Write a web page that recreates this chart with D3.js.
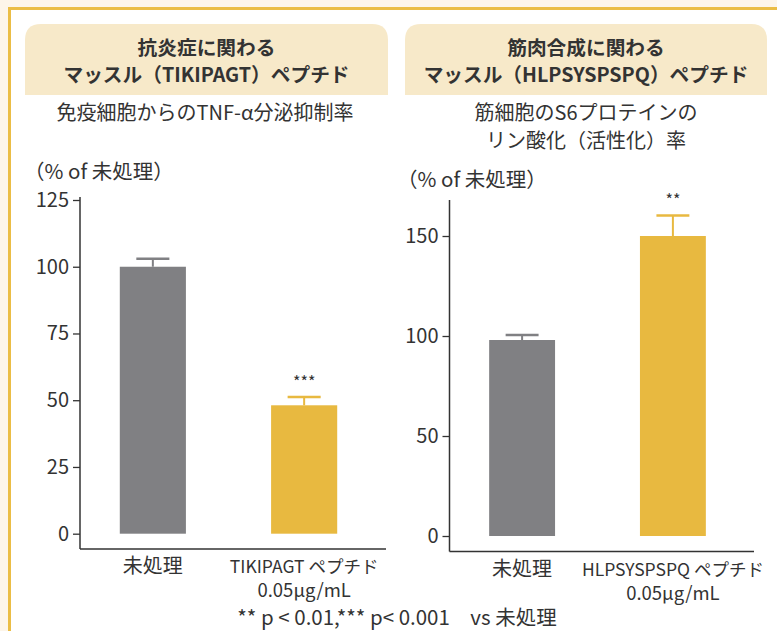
<!DOCTYPE html>
<html><head><meta charset="utf-8">
<script src="https://cdn.jsdelivr.net/npm/d3@7"></script>
<style>
html,body{margin:0;padding:0;background:#fdf5e9;}
svg{display:block;font-family:"Noto Sans CJK JP","Noto Sans",sans-serif;}
</style></head>
<body>
<svg id="c" width="777" height="631"></svg>
<script>
// ---- data ----
const leftTitle = ["抗炎症に関わる", "マッスル（TIKIPAGT）ペプチド"];
const leftSubtitle = ["免疫細胞からのTNF-α分泌抑制率"];
const leftCategories = ["未処理", "TIKIPAGT ペプチド"];
const leftCatSub = ["", "0.05μg/mL"];
const leftValues = [100, 48.1];
const leftErrors = [3, 3.1];
const leftSig = ["", "***"];
const leftTicks = [0, 25, 50, 75, 100, 125];

const rightTitle = ["筋肉合成に関わる", "マッスル（HLPSYSPSPQ）ペプチド"];
const rightSubtitle = ["筋細胞のS6プロテインの", "リン酸化（活性化）率"];
const rightCategories = ["未処理", "HLPSYSPSPQ ペプチド"];
const rightCatSub = ["", "0.05μg/mL"];
const rightValues = [98, 150];
const rightErrors = [2.5, 10.3];
const rightSig = ["", "**"];
const rightTicks = [0, 50, 100, 150];

const yLabel = "（% of 未処理）";
const footnote = "** p < 0.01,*** p< 0.001　vs 未処理";
const barColors = ["#808083", "#e8b940"];

const FS = 20;
const svg = d3.select("#c");
svg.append("rect").attr("x",0).attr("y",0).attr("width",777).attr("height",631).attr("fill","#fdf5e9");
svg.append("rect").attr("x",9.5).attr("y",8.5).attr("width",800).attr("height",700)
  .attr("fill","#ffffff").attr("stroke","#ebbd45").attr("stroke-width",3);

function headerBox(x, w, lines){
  const y=24, h=71, r=16;
  const p = `M${x},${y+h} L${x},${y+r} Q${x},${y} ${x+r},${y} L${x+w-r},${y} Q${x+w},${y} ${x+w},${y+r} L${x+w},${y+h} Z`;
  svg.append("path").attr("d",p).attr("fill","#f7e9c9");
  lines.forEach((t,i)=>{
    svg.append("text").attr("x",x+w/2).attr("y",55+i*27).attr("text-anchor","middle")
      .attr("font-size",19.7).attr("font-weight","bold").attr("fill","#333").text(t);
  });
}
headerBox(25, 363, leftTitle);
headerBox(405, 362, rightTitle);

function subtitle(cx, lines){
  lines.forEach((t,i)=>{
    svg.append("text").attr("x",cx).attr("y",120+i*28).attr("text-anchor","middle")
      .attr("font-size",FS).attr("fill","#333").text(t);
  });
}
subtitle(205, leftSubtitle);
subtitle(586, rightSubtitle);

function chart(o){
  const g = svg.append("g");
  const y = d3.scaleLinear().domain([0, o.max]).range([o.y0, o.y1]);
  const x = d3.scaleBand().domain(o.cats).range([o.xl, o.xr]).paddingInner(0.563).paddingOuter(0.263);
  const ax = g.append("g").attr("transform",`translate(${o.xl},0)`)
    .call(d3.axisLeft(y).tickValues(o.ticks).tickSize(7).tickPadding(4).tickSizeOuter(0));
  ax.select(".domain").remove();
  ax.selectAll(".tick line").attr("stroke","#333").attr("stroke-width",1.3);
  ax.selectAll(".tick text").attr("font-size",FS).attr("fill","#333").attr("font-family","'Noto Sans CJK JP','Noto Sans',sans-serif");
  g.append("line").attr("x1",o.xl).attr("x2",o.xl).attr("y1",o.axTop).attr("y2",o.axBot).attr("stroke","#333").attr("stroke-width",1.5);
  g.append("line").attr("x1",o.xl).attr("x2",o.axRight).attr("y1",o.axBot).attr("y2",o.axBot).attr("stroke","#333").attr("stroke-width",1.5);
  o.cats.forEach((c,i)=>{
    const bx = x(c), bw = x.bandwidth(), cx = bx+bw/2;
    const col = barColors[i];
    const top = y(o.vals[i]+o.errs[i]);
    g.append("line").attr("x1",cx).attr("x2",cx).attr("y1",top).attr("y2",y(o.vals[i])).attr("stroke",col).attr("stroke-width",2);
    g.append("line").attr("x1",cx-bw/4).attr("x2",cx+bw/4).attr("y1",top).attr("y2",top).attr("stroke",col).attr("stroke-width",2.5);
    g.append("rect").attr("x",bx).attr("y",y(o.vals[i])).attr("width",bw).attr("height",y(0)-y(o.vals[i])).attr("fill",col);
    if(o.sig[i]) g.append("text").attr("x",cx).attr("y",top-9).attr("text-anchor","middle")
      .attr("font-size",16).attr("fill","#333").text(o.sig[i]);
    const fs = /[A-Za-z]/.test(c) ? 17.5 : FS;
    g.append("text").attr("x",cx).attr("y",o.axBot+24).attr("text-anchor","middle")
      .attr("font-size",fs).attr("fill","#333").text(c);
    if(o.sub[i]) g.append("text").attr("x",cx).attr("y",o.axBot+48).attr("text-anchor","middle")
      .attr("font-size",18.5).attr("fill","#333").text(o.sub[i]);
  });
  g.append("text").attr("x",o.labX).attr("y",o.labY).attr("font-size",20.5).attr("fill","#333").text(yLabel);
}

chart({cats:leftCategories, sub:leftCatSub, vals:leftValues, errs:leftErrors, sig:leftSig, ticks:leftTicks,
  max:125, y0:533.7, y1:200, xl:80, xr:377, axTop:197, axBot:549, axRight:386,
  labX:24, labY:179});
chart({cats:rightCategories, sub:rightCatSub, vals:rightValues, errs:rightErrors, sig:rightSig, ticks:rightTicks,
  max:150, y0:536, y1:236, xl:449.5, xr:745.5, axTop:200, axBot:551.5, axRight:754,
  labX:397, labY:187});

svg.append("text").attr("x",397).attr("y",625).attr("text-anchor","middle")
  .attr("font-size",20.5).attr("fill","#333").text(footnote);
</script>
</body></html>
